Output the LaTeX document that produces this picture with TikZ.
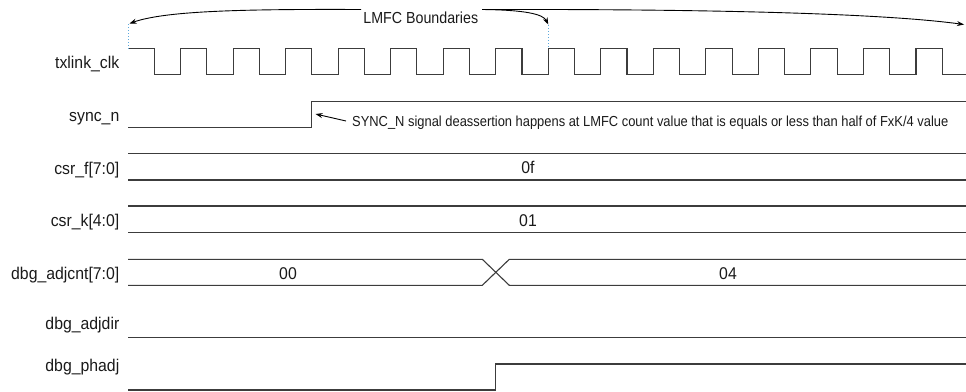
\documentclass[tikz,border=0pt]{standalone}
\usepackage{fontspec}
\setmainfont{Liberation Sans}
\newfontfamily\sigfont[FakeStretch=0.93]{Liberation Sans}
\newfontfamily\annfont[FakeStretch=0.89]{Liberation Sans}
\newfontfamily\lmfcfont[FakeStretch=0.89]{Liberation Sans}
\usetikzlibrary{arrows.meta}
\definecolor{wave}{HTML}{3C3C3C}
\definecolor{txt}{HTML}{1A1A1A}
\definecolor{dotblue}{HTML}{5DA9DD}
\begin{document}
\begin{tikzpicture}[x=1pt,y=-1pt,
  wavel/.style={draw=wave,line width=1.1pt},
  sig/.style={anchor=base east,text=txt,font=\sigfont\fontsize{17}{20}\selectfont,inner sep=0pt},
  val/.style={anchor=base,text=txt,font=\sigfont\fontsize{17}{20}\selectfont,inner sep=0pt},
  ptr/.style={draw=black,line width=0.9pt,-{Stealth[length=7pt,width=5pt]}},
  bnd/.style={draw=dotblue,line width=1pt,dotted}]
\useasboundingbox (0,0) rectangle (966,391);
\clip (0,0) rectangle (966,391);

% signal names
\node[sig] (n1) at (119.5,68) {txlink\_clk};
\node[sig] (n2) at (119.5,121) {sync\_n};
\node[sig] (n3) at (119.5,174) {csr\_f[7:0]};
\node[sig] (n4) at (119.5,226.5) {csr\_k[4:0]};
\node[sig] (n5) at (119.5,279) {dbg\_adjcnt[7:0]};
\node[sig] (n6) at (119.5,329.5) {dbg\_adjdir};
\node[sig] (n7) at (119.5,371) {dbg\_phadj};

% clock
\draw[wavel] (128,48.3) \foreach \i in {0,...,15}{ -- ++(26.265,0) -- ++(0,26) -- ++(26.265,0) -- ++(0,-26)};

% sync_n
\draw[wavel] (128,127.3) -- (311.7,127.3) -- (311.7,101.7) -- (966,101.7);

% csr_f
\draw[wavel] (128,153.3) -- (966,153.3);
\draw[wavel] (128,180) -- (966,180);
\node[val] (v1) at (528,173.7) {0f};

% csr_k
\draw[wavel] (128,206) -- (966,206);
\draw[wavel] (128,232.7) -- (966,232.7);
\node[val] (v2) at (528,226.3) {01};

% dbg_adjcnt
\draw[wavel] (128,259.3) -- (482.3,259.3) -- (509.3,285.3) -- (966,285.3);
\draw[wavel] (128,285.3) -- (482.3,285.3) -- (509.3,259.3) -- (966,259.3);
\node[val] (v3) at (288,279) {00};
\node[val] (v4) at (728,279) {04};

% dbg_adjdir
\draw[wavel] (128,337.3) -- (966,337.3);

% dbg_phadj
\draw[wavel] (128,390) -- (495.7,390) -- (495.7,364) -- (966,364);

% LMFC boundaries
\node[anchor=base,text=txt,inner sep=0pt,font=\lmfcfont\fontsize{16}{19}\selectfont] (lmfc) at (420.8,23) {LMFC Boundaries};
\coordinate (lL) at (361,9.5);
\coordinate (lR) at (482,9.5);
\coordinate (b0) at (129.5,23.5);
\coordinate (b1) at (548.3,24.5);
\coordinate (b2) at (964,24.5);
\coordinate (d0) at (128,48.3);
\coordinate (d1) at (548.3,48.3);
\draw[bnd] (128,24) -- (d0);
\draw[bnd] (548.3,25) -- (d1);
\draw[ptr] (lL) .. controls (240,9) and (165,11) .. (b0);
\draw[ptr] (lR) .. controls (525,10) and (543,14) .. (b1);
\draw[ptr] (lR) .. controls (700,9) and (880,13) .. (b2);

% annotation
\node[anchor=base west,text=txt,inner sep=0pt,font=\annfont\fontsize{14.5}{17}\selectfont] (ann) at (352,126) {SYNC\_N signal deassertion happens at LMFC count value that is equals or less than half of FxK/4 value};
\coordinate (at) at (346,121);
\coordinate (ap) at (315.5,114);
\draw[ptr] (at) -- (ap);
\end{tikzpicture}
\end{document}
